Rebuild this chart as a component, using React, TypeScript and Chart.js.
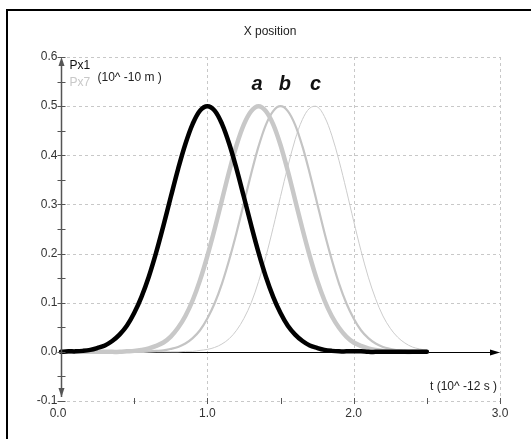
import { useEffect, useRef } from 'react'
import { Chart, registerables } from 'chart.js'

Chart.register(...registerables)

// time samples, 10^-12 s
const T = [
  0, 0.05, 0.1, 0.15, 0.2, 0.25, 0.3, 0.35, 0.4, 0.45,
  0.5, 0.55, 0.6, 0.65, 0.7, 0.75, 0.8, 0.85, 0.9, 0.95,
  1, 1.05, 1.1, 1.15, 1.2, 1.25, 1.3, 1.35, 1.4, 1.45,
  1.5, 1.55, 1.6, 1.65, 1.7, 1.75, 1.8, 1.85, 1.9, 1.95,
  2, 2.05, 2.1, 2.15, 2.2, 2.25, 2.3, 2.35, 2.4, 2.45, 2.5,
]

// X position, 10^-10 m
const PX1 = [
  0, 0.001, 0.001, 0.002, 0.004, 0.008, 0.013, 0.022, 0.035, 0.053,
  0.079, 0.112, 0.153, 0.202, 0.257, 0.315, 0.372, 0.423, 0.464, 0.491,
  0.5, 0.491, 0.464, 0.423, 0.372, 0.315, 0.257, 0.202, 0.153, 0.112,
  0.079, 0.053, 0.035, 0.022, 0.013, 0.008, 0.004, 0.002, 0.001, 0.001,
  0.001, 0.001, 0, 0, 0, 0, 0, 0, 0, 0, 0,
]
const PX7_A = [
  0, 0, 0, 0, 0, 0, 0, 0, 0, 0.001,
  0.002, 0.004, 0.007, 0.012, 0.019, 0.031, 0.049, 0.073, 0.105, 0.146,
  0.195, 0.25, 0.309, 0.368, 0.421, 0.463, 0.49, 0.5, 0.49, 0.463,
  0.421, 0.368, 0.309, 0.25, 0.195, 0.146, 0.105, 0.073, 0.049, 0.031,
  0.019, 0.012, 0.007, 0.004, 0.002, 0.001, 0.001, 0, 0, 0, 0,
]
const PX7_B = [
  0, 0, 0, 0, 0, 0, 0, 0, 0, 0,
  0, 0, 0.001, 0.002, 0.003, 0.006, 0.01, 0.017, 0.028, 0.044,
  0.068, 0.099, 0.139, 0.188, 0.243, 0.303, 0.363, 0.418, 0.462, 0.49,
  0.5, 0.49, 0.462, 0.418, 0.363, 0.303, 0.243, 0.188, 0.139, 0.099,
  0.068, 0.044, 0.028, 0.017, 0.01, 0.006, 0.003, 0.002, 0.001, 0, 0,
]
const PX7_C = [
  0, 0, 0, 0, 0, 0, 0, 0, 0, 0,
  0, 0, 0, 0, 0, 0, 0, 0.001, 0.001, 0.003,
  0.005, 0.009, 0.016, 0.027, 0.044, 0.068, 0.1, 0.143, 0.194, 0.253,
  0.316, 0.377, 0.432, 0.473, 0.496, 0.499, 0.479, 0.441, 0.389, 0.329,
  0.266, 0.206, 0.152, 0.108, 0.073, 0.048, 0.03, 0.018, 0.01, 0.006, 0.003,
]

const Y_TICKS = [-0.1, 0, 0.1, 0.2, 0.3, 0.4, 0.5, 0.6]
const Y_MINOR = [-0.05, 0.05, 0.15, 0.25, 0.35, 0.45, 0.55]
const X_LABELS = [0, 1, 2, 3]
const X_MARKS = [0.5, 1, 1.5, 2, 2.5, 3]
const X_GRID = [1, 2, 3]

const CURVE_LABELS = [
  { text: 'a', t: 1.34 },
  { text: 'b', t: 1.53 },
  { text: 'c', t: 1.74 },
]

const FONT = '12px "Liberation Sans", Arial, sans-serif'

const pts = (ys: number[]) => ys.map((v, i) => ({ x: T[i], y: v }))

const decor = {
  id: 'decor',
  beforeDatasetsDraw(chart: any) {
    const { ctx, scales: { x, y } } = chart
    const x0 = x.getPixelForValue(0)
    const x3 = x.getPixelForValue(3)
    ctx.save()
    // dashed grid
    ctx.strokeStyle = '#c8c8c8'
    ctx.lineWidth = 1
    ctx.setLineDash([3, 3])
    for (const v of Y_TICKS) {
      const py = Math.round(y.getPixelForValue(v)) + 0.5
      ctx.beginPath(); ctx.moveTo(x0, py); ctx.lineTo(x3, py); ctx.stroke()
    }
    for (const v of X_GRID) {
      const px = Math.round(x.getPixelForValue(v)) + 0.5
      ctx.beginPath(); ctx.moveTo(px, y.getPixelForValue(0.6)); ctx.lineTo(px, y.getPixelForValue(-0.1)); ctx.stroke()
    }
    ctx.setLineDash([])
    // time axis with arrow at y = 0
    const py0 = Math.round(y.getPixelForValue(0)) + 0.5
    ctx.strokeStyle = '#000'
    ctx.beginPath(); ctx.moveTo(x0, py0); ctx.lineTo(x3 - 4, py0); ctx.stroke()
    ctx.fillStyle = '#000'
    ctx.beginPath(); ctx.moveTo(x3, py0); ctx.lineTo(x3 - 10, py0 - 3); ctx.lineTo(x3 - 10, py0 + 3); ctx.closePath(); ctx.fill()
    ctx.restore()
  },
  afterDatasetsDraw(chart: any) {
    const { ctx, scales: { x, y } } = chart
    const ax = Math.round(x.getPixelForValue(0)) + 0.5
    const yTop = y.getPixelForValue(0.6)
    const yBot = y.getPixelForValue(-0.1)
    ctx.save()
    // vertical axis with arrows at both ends
    ctx.strokeStyle = '#555'
    ctx.fillStyle = '#555'
    ctx.lineWidth = 1.5
    ctx.beginPath(); ctx.moveTo(ax, yTop + 4); ctx.lineTo(ax, yBot - 4); ctx.stroke()
    ctx.beginPath(); ctx.moveTo(ax, yTop); ctx.lineTo(ax - 3, yTop + 9); ctx.lineTo(ax + 3, yTop + 9); ctx.closePath(); ctx.fill()
    ctx.beginPath(); ctx.moveTo(ax, yBot - 4); ctx.lineTo(ax - 3, yBot - 13); ctx.lineTo(ax + 3, yBot - 13); ctx.closePath(); ctx.fill()
    ctx.lineWidth = 1
    for (const v of [...Y_TICKS, ...Y_MINOR]) {
      const py = Math.round(y.getPixelForValue(v)) + 0.5
      ctx.beginPath(); ctx.moveTo(ax - 4, py); ctx.lineTo(ax + 4, py); ctx.stroke()
    }
    const byT = Math.round(yBot)
    for (const v of X_MARKS) {
      const px = Math.round(x.getPixelForValue(v)) + 0.5
      ctx.beginPath(); ctx.moveTo(px, byT - 3); ctx.lineTo(px, byT + 3); ctx.stroke()
    }
    // tick labels
    ctx.font = FONT
    ctx.fillStyle = '#333'
    ctx.textAlign = 'right'
    ctx.textBaseline = 'middle'
    for (const v of Y_TICKS) ctx.fillText(v.toFixed(1), ax - 4, y.getPixelForValue(v))
    ctx.textAlign = 'center'
    ctx.textBaseline = 'top'
    for (const v of X_LABELS) ctx.fillText(v.toFixed(1), x.getPixelForValue(v) - (v === 0 ? 3 : 0), yBot + 7)
    // legend-ish labels and units
    ctx.textAlign = 'left'
    ctx.textBaseline = 'middle'
    ctx.fillStyle = '#111'
    ctx.fillText('Px1', ax + 8, yTop + 9)
    ctx.fillStyle = '#c8c8c8'
    ctx.fillText('Px7', ax + 8, yTop + 26)
    ctx.fillStyle = '#222'
    ctx.fillText('(10^ -10 m )', ax + 36, yTop + 21)
    ctx.textAlign = 'right'
    ctx.fillText('t (10^ -12 s )', x.getPixelForValue(3) - 3, y.getPixelForValue(-0.1) - 14)
    // title
    ctx.textAlign = 'center'
    ctx.fillStyle = '#222'
    ctx.fillText('X position', 270, 32)
    // curve names
    ctx.font = 'italic bold 20px "Liberation Sans", Arial, sans-serif'
    ctx.fillStyle = '#111'
    ctx.textBaseline = 'alphabetic'
    for (const c of CURVE_LABELS) ctx.fillText(c.text, x.getPixelForValue(c.t), y.getPixelForValue(0.5) - 16)
    ctx.restore()
  },
}

export default function App() {
  const ref = useRef<HTMLCanvasElement>(null)

  useEffect(() => {
    document.body.style.margin = '0'
    if (!ref.current) return
    const line = (label: string, data: number[], color: string, width: number) => ({
      label,
      data: pts(data),
      borderColor: color,
      borderWidth: width,
      pointRadius: 0,
      fill: false,
      tension: 0.35,
      borderJoinStyle: 'round' as const,
      borderCapStyle: 'round' as const,
    })
    const chart = new Chart(ref.current, {
      type: 'line',
      data: {
        datasets: [
          line('Px1', PX1, '#000000', 4.5),
          line('Px7 a', PX7_A, '#c8c8c8', 4.5),
          line('Px7 b', PX7_B, '#c4c4c4', 2.2),
          line('Px7 c', PX7_C, '#cccccc', 1),
        ],
      },
      options: {
        responsive: false,
        animation: false,
        layout: { padding: { left: 61, right: 31, top: 57, bottom: 38 } },
        scales: {
          x: { type: 'linear', min: 0, max: 3, display: false },
          y: { type: 'linear', min: -0.1, max: 0.6, display: false },
        },
        plugins: { legend: { display: false }, tooltip: { enabled: false } },
        clip: false as any,
      },
      plugins: [decor],
    })
    return () => chart.destroy()
  }, [])

  return (
    <div style={{ position: 'fixed', left: 0, top: 0, width: 531, height: 439, background: '#fff' }}>
      <div style={{ position: 'absolute', left: 6, top: 9, right: 0, bottom: 0, borderLeft: '2px solid #000', borderTop: '2px solid #000' }} />
      <canvas ref={ref} width={531} height={439} style={{ position: 'absolute', left: 0, top: 0 }} />
    </div>
  )
}
